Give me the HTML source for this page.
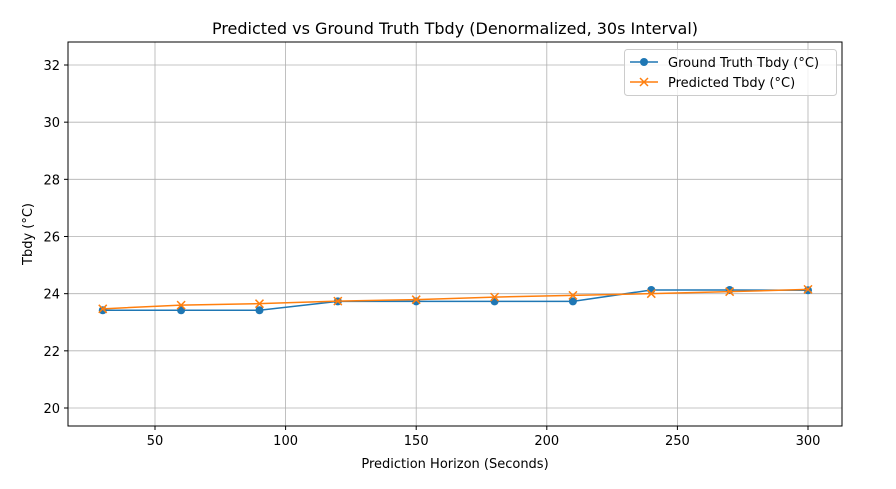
<!DOCTYPE html>
<html><head><meta charset="utf-8"><style>
body{margin:0;background:#fff;font-family:"Liberation Sans","DejaVu Sans",sans-serif}
</style></head><body>
<svg id="chart" width="896" height="484" xmlns="http://www.w3.org/2000/svg" font-family="'DejaVu Sans','Liberation Sans',sans-serif">
<text x="455" y="34" font-size="16" text-anchor="middle">Predicted vs Ground Truth Tbdy (Denormalized, 30s Interval)</text>
<g id="grid"></g>
<g id="series"></g>
<rect x="68" y="42" width="774" height="384" fill="none" stroke="#000" stroke-width="1"/>
<text x="455" y="468" font-size="13" text-anchor="middle">Prediction Horizon (Seconds)</text>
<text transform="translate(32,234) rotate(-90)" font-size="13" text-anchor="middle">Tbdy (°C)</text>
<g>
<rect x="624.5" y="49.5" width="212" height="46" rx="3" fill="#fff" fill-opacity="0.8" stroke="#ccc"/>
<g>
<line x1="630" y1="62" x2="658" y2="62" stroke="#1f77b4" stroke-width="1.5"/>
<circle cx="644" cy="62" r="4" fill="#1f77b4"/>
<text x="668" y="67" font-size="13">Ground Truth Tbdy (°C)</text></g>
<g>
<line x1="630" y1="82" x2="658" y2="82" stroke="#ff7f0e" stroke-width="1.5"/>
<path d="M640,78L648,86M648,78L640,86" stroke="#ff7f0e" stroke-width="1.5"/>
<text x="668" y="87" font-size="13">Predicted Tbdy (°C)</text></g>
</g>
</svg>
<script>
const xValues=[30,60,90,120,150,180,210,240,270,300];
const groundTruth=[23.42,23.42,23.42,23.73,23.73,23.73,23.73,24.13,24.13,24.12];
const predicted=[23.47,23.60,23.65,23.74,23.79,23.88,23.94,24.0,24.07,24.15];
const xTicks=[50,100,150,200,250,300];
const yTicks=[20,22,24,26,28,30,32];
const NS="http://www.w3.org/2000/svg";
function xs(v){return 155+(v-50)*(808-155)/250;}
function ys(v){return 408-(v-20)*(408-65)/12;}
const grid=document.getElementById('grid'),ser=document.getElementById('series');
function mk(t,a,p){const e=document.createElementNS(NS,t);for(const k in a)e.setAttribute(k,a[k]);p.appendChild(e);return e;}
xTicks.forEach(t=>{const x=xs(t);
const l=mk('line',{x1:x,x2:x,y1:42,y2:426,stroke:'#b0b0b0','stroke-width':0.8},grid);


mk('line',{x1:x,x2:x,y1:426,y2:430,stroke:'#000'},grid);
const tx=mk('text',{x:x,y:445,'font-size':13,'text-anchor':'middle'},grid);tx.textContent=t;

});
yTicks.forEach(t=>{const y=ys(t);
const l=mk('line',{x1:68,x2:842,y1:y,y2:y,stroke:'#b0b0b0','stroke-width':0.8},grid);


mk('line',{x1:64,x2:68,y1:y,y2:y,stroke:'#000'},grid);
const tx=mk('text',{x:60,y:y+5,'font-size':13,'text-anchor':'end'},grid);tx.textContent=t;

});
function line(vals,color,name){const pts=xValues.map((x,i)=>xs(x)+','+ys(vals[i])).join(' ');
const p=mk('polyline',{points:pts,fill:'none',stroke:color,'stroke-width':1.5},ser);

}
line(groundTruth,'#1f77b4','ground-truth');
xValues.forEach((x,i)=>{const c=mk('circle',{cx:xs(x),cy:ys(groundTruth[i]),r:4,fill:'#1f77b4'},ser);

});
line(predicted,'#ff7f0e','predicted');
xValues.forEach((x,i)=>{const cx=xs(x),cy=ys(predicted[i]);
const m=mk('path',{d:`M${cx-4},${cy-4}L${cx+4},${cy+4}M${cx+4},${cy-4}L${cx-4},${cy+4}`,stroke:'#ff7f0e','stroke-width':1.5},ser);

});
</script>
</body></html>
